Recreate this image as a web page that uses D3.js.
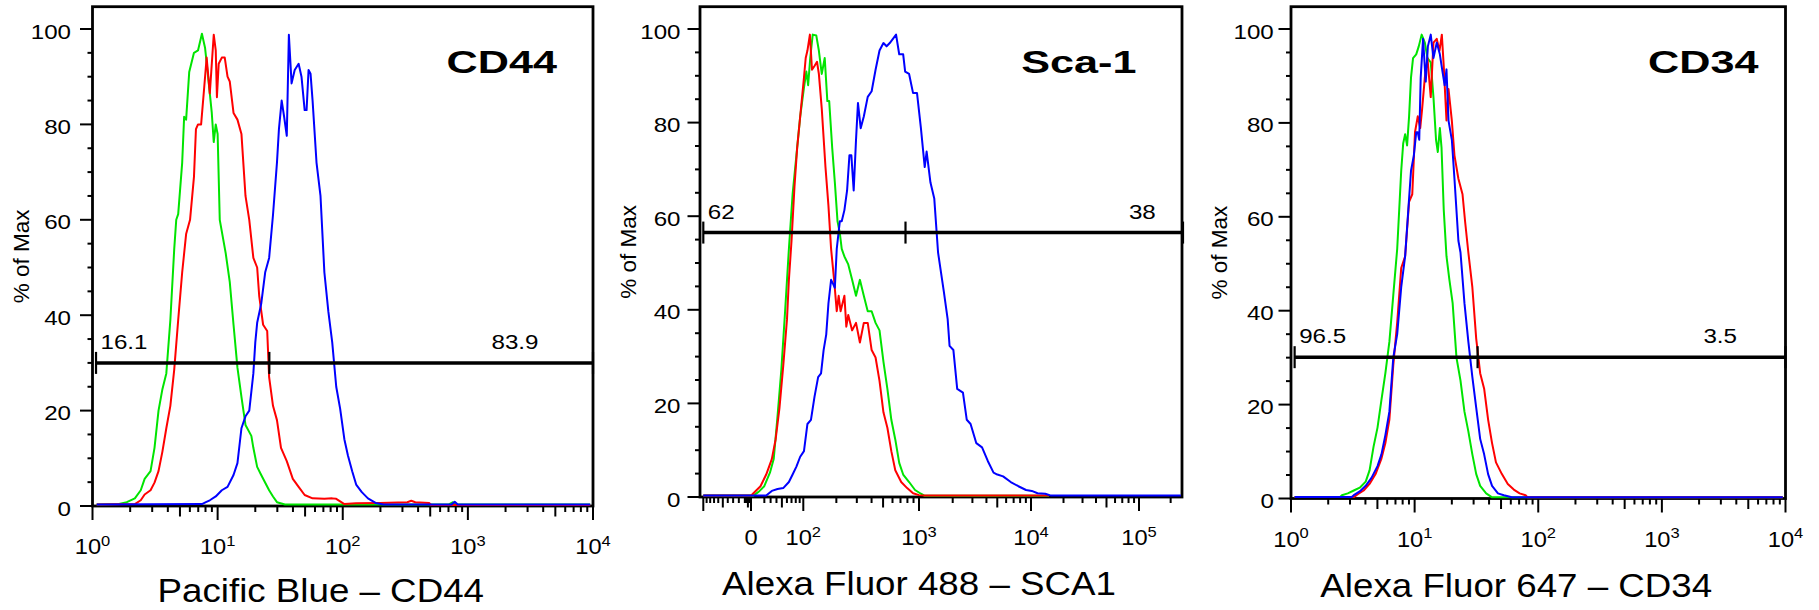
<!DOCTYPE html>
<html>
<head>
<meta charset="utf-8">
<script src="https://cdn.jsdelivr.net/npm/d3@7"></script>
<style>
  body { margin: 0; background: #fff; }
  svg { display: block; }
  text { font-family: "Liberation Sans", Arial, sans-serif; fill: #000; }
</style>
</head>
<body>
<svg id="chart" width="1819" height="610"></svg>
<script>
// ---- data: [intensity, % of max] ----
const cd44Green = [[1.08,0.3],[1.63,0.4],[1.88,0.8],[2.18,1.6],[2.43,3.3],[2.61,5.7],[2.91,7.3],[3.13,12.2],[3.37,20],[3.62,24.5],[3.89,27.8],[4.19,39],[4.5,53.9],[4.67,60],[4.84,61.2],[5.21,72],[5.4,81.6],[5.6,81],[5.93,91],[6.47,95],[6.97,95.5],[7.49,99],[7.94,96],[8.35,90.6],[8.98,82.4],[9.31,76.3],[9.66,80],[10,78],[10.4,60],[11.6,53],[12.5,47],[13.4,38],[14.4,29],[15.5,22.9],[16.7,17],[18.6,14.7],[19.3,12.2],[20.7,8.2],[22.3,6.5],[25.8,3.3],[27.7,2],[29.8,0.8],[34.5,0.3],[700,0.3],[760,0.8],[800,0.3],[9500,0.3]];
const cd44Red = [[1.08,0.3],[2.18,0.4],[2.43,1.2],[2.61,2.4],[2.91,3.3],[3.13,4.9],[3.37,7.3],[3.62,11.4],[3.89,16.3],[4.19,21],[4.5,28.6],[4.84,39],[5.21,49],[5.6,57],[6.02,60],[6.47,69],[6.71,79],[6.97,80],[7.38,80],[7.77,87],[8.17,94],[8.66,86.5],[9.31,98.8],[9.66,95.5],[9.87,85.7],[10.2,92.7],[10.8,94],[11.4,94],[12,90],[12.5,89],[13.4,82.4],[14.4,81],[15.5,78],[16.7,65],[17.9,60],[19.3,52],[20.7,50],[21.5,44],[23.1,38],[24.9,36.7],[25.8,27],[27.7,21],[29.8,18],[32.1,12.2],[35.7,9.4],[39.9,5.7],[44.4,4],[49.6,2.3],[57.4,1.6],[71.3,1.5],[82.4,1.6],[88.7,1.5],[103,0.4],[128,0.6],[197,0.65],[328,0.8],[353,1.1],[380,0.8],[490,0.65],[508,0.2],[9500,0.2]];
const cd44Blue = [[1.08,0.3],[7.49,0.4],[8.06,0.8],[8.66,1.2],[9.66,2],[10.8,3.3],[12,4],[13.4,6.5],[14.4,9],[15.5,16.3],[16.7,18.8],[17.9,20],[19.3,27.8],[20,34.3],[20.7,38.4],[22.3,42.4],[24,49],[25.8,52],[27.7,61],[29.8,72],[30.9,79],[32.5,85],[34,81.6],[35.7,77.6],[37.1,98.8],[39,88.6],[41.3,91.4],[44.4,92.7],[46.8,90],[49.6,83],[51.4,83],[53.3,91.4],[55.3,90.6],[57.4,85],[61.7,72],[66.4,65],[71.3,49],[76.7,40.8],[82.4,34.3],[88.7,25],[95.3,20.4],[103,14],[110,10.6],[119,7.3],[128,4.5],[142,2.9],[159,1.6],[183,0.65],[212,0.3],[740,0.3],[785,0.9],[830,0.3],[9500,0.3]];

const sca1Green = [[-100,0.3],[0,0.3],[2.8,0.25],[11.2,1.1],[19.9,2.3],[28.9,5.2],[35.2,8.1],[41.9,17.3],[49,27.3],[56.3,39.7],[64.2,53],[72.5,64.7],[81.6,73],[91.4,81.3],[101.5,87.5],[107,90.9],[111.3,88],[116.5,93.8],[122.9,98.8],[132.6,98.6],[139.9,95.4],[148.6,90.4],[158,93.8],[166.7,84.6],[173.1,84.6],[184,74.6],[194.1,67.2],[204.8,58.9],[214.4,56.4],[222.7,53],[234.9,51.4],[253.5,49.7],[273.6,46.4],[295.3,43],[318.6,46.4],[343.9,43],[371.2,39.7],[400.6,39.7],[432.3,37.2],[466.7,35.6],[503.5,28.9],[543.5,23.1],[586.5,16.5],[633,12.3],[683,7.3],[737.2,4.8],[826.4,3.2],[926.7,1.5],[1040,0.7],[1125,0.25],[14720,0.25]];
const sca1Red = [[-100,0.3],[0,0.3],[2.8,0.7],[8.4,1.5],[14.1,2.3],[22.9,4.8],[32,8.1],[38.5,12.3],[45.4,19],[52.6,28],[60.2,38],[64.2,46.4],[70,54.7],[76.9,66.3],[83.5,74.6],[91.4,81.3],[101.5,89.6],[105.5,93.8],[109.6,95.4],[115.6,98.8],[121,91.3],[127.6,92.1],[134.6,93],[139.9,90.4],[148.6,83],[160.4,70.5],[170.5,62.2],[179.9,53],[191.2,46.4],[201.6,39.7],[209.5,43],[217.7,39.7],[234.9,43],[243.9,36.4],[253.5,38.9],[273.6,35.6],[295.3,37.2],[318.6,33],[343.9,37.2],[371.2,37.2],[400.6,31.4],[432.3,29.8],[466.7,24.8],[503.5,18.1],[543.5,14.8],[586.5,9.8],[633,5.7],[709.6,3.2],[795.6,1.9],[892,0.8],[1000,0.4],[1125,0.3],[14720,0.3]];
const sca1Blue = [[-100,0.3],[0,0.3],[22.9,0.3],[32,1.3],[41.9,1.7],[52.6,1.9],[64.2,3.2],[72.5,4.8],[81.6,6.5],[91.4,8.6],[101.5,9.8],[109.6,15.6],[118.3,16.5],[127.6,21.4],[137.8,25.6],[146.4,26.4],[154.4,31.4],[162.9,34.7],[170.5,41.4],[179.9,46.4],[186.9,45.6],[194.1,44.7],[201.6,53],[214.4,58.9],[222.7,58.9],[234.9,61.3],[247.7,65.5],[259.4,73],[269.5,73],[282.1,65.5],[295.3,76.3],[306.8,84.2],[323.6,78.8],[343.9,81.3],[371.2,85.5],[400.6,86.7],[432.3,91.3],[466.7,95.4],[503.5,97],[535.3,96.3],[568.9,97],[604.7,97.9],[642.7,98.8],[683,94.6],[737.2,94.6],[765.8,90.9],[826.4,90.4],[892,86.3],[962.5,86.3],[1040,78.8],[1125,70.5],[1170,73.8],[1266,67.2],[1369,63.8],[1481,52.2],[1667,43.9],[1803,38],[1875,32.3],[2029,31.4],[2194,23.1],[2469,22.3],[2671,16.5],[2889,15.6],[3251,11.5],[3657,10.6],[4115,7.7],[4630,5.2],[5008,4.8],[5636,4.4],[6594,3.2],[7717,2.3],[9028,1.5],[10166,1.3],[11499,0.8],[13556,0.7],[15340,0.3],[250000,0.3]];

const cd34Green = [[1.07,0.3],[2.49,0.3],[2.58,0.7],[2.88,1.1],[3.22,1.7],[3.6,2.3],[4.02,3.6],[4.32,6],[4.65,11],[5.01,15.1],[5.39,21],[5.8,26.7],[6.25,33.4],[6.72,43.3],[7.23,53.2],[7.79,69.8],[8.08,75.6],[8.38,77.6],[8.69,75.2],[9.02,81.4],[9.35,89.7],[9.71,93.8],[10.3,94.6],[10.8,96.3],[11.4,98.8],[12.1,97.1],[12.7,93.8],[13.5,92.9],[14.2,85.5],[14.9,76.4],[15.4,73.8],[16,78.9],[16.5,74.8],[17.2,61.5],[18.1,51.6],[19.1,46.6],[20.3,41.6],[21.8,30],[23.5,25.1],[25.3,18.5],[27.2,14.3],[29.3,9.4],[31.5,5.2],[33.9,2.7],[37.9,1.1],[42.3,0.25],[9500,0.25]];
const cd34Blue = [[1.07,0.3],[3.1,0.3],[3.22,0.7],[3.6,1.5],[4.02,2.7],[4.48,4.4],[5.01,6.9],[5.39,9.4],[5.8,13.5],[6.25,18.5],[6.72,30],[7.23,35],[7.79,45],[8.38,51.6],[8.89,61.5],[9.35,69.8],[9.85,73],[10.3,78],[10.6,78],[10.9,76.4],[11.2,89.7],[11.7,97.9],[12.3,88.8],[12.8,96.3],[13.5,98.8],[14.2,93.8],[15.1,97.1],[16,94.6],[16.9,90.5],[17.5,88],[18.1,91.4],[18.8,80.5],[20,76.4],[21,68.1],[22.6,54.9],[23.5,52.4],[25.3,41.6],[27.2,33.4],[29.3,25.9],[31.5,19.3],[33.9,12.7],[36.5,9.4],[39.3,5.2],[42.3,2.7],[47.2,1.1],[52.7,0.7],[61.1,0.25],[9500,0.25]];
const cd34Red = [[1.07,0.3],[3.22,0.3],[3.47,0.9],[3.87,1.7],[4.32,3.1],[4.83,5.2],[5.39,8.5],[5.8,11.8],[6.25,16.8],[6.72,28.4],[7.23,37.5],[7.79,49.1],[8.38,51.6],[9.02,63.2],[9.57,64.8],[10.07,78],[10.6,81.4],[11.1,78.9],[11.5,83],[12.1,89.7],[12.7,93.8],[13.5,85.5],[14.2,97.1],[15.1,97.9],[15.9,95.4],[16.6,98.8],[17.2,92.1],[18.1,80.5],[18.8,87.2],[20,80.5],[21,73.1],[22.6,68.1],[24.4,64.8],[25.6,59],[27.2,52.4],[29.3,45],[31.5,34],[33.9,26.7],[36.5,23.4],[39.3,16.8],[42.3,11.8],[45.5,7.7],[50.8,5.2],[56.7,3.1],[63.4,1.9],[70.7,1.1],[79,0.7],[82,0.25],[9500,0.25]];

// gates: [start, split, end] on x, level on y, and the two percentages
const cd44Gate = {x: [1.067, 25.9, 1e4], y: 30, labels: ["16.1", "83.9"]};
const sca1Gate = {x: [-100, 771, 262144], y: 56.5, labels: ["62", "38"]};
const cd34Gate = {x: [1.07, 32.3, 1e4], y: 30.1, labels: ["96.5", "3.5"]};

const yTicks = [0, 20, 40, 60, 80, 100];
const logMajor = [1, 10, 100, 1e3, 1e4];
const biexMajor = [-100, 0, 100, 1e3, 1e4, 1e5];
const biexLabels = [[0, "0", null], [100, "10", "2"], [1e3, "10", "3"], [1e4, "10", "4"], [1e5, "10", "5"]];

const colors = {green: "#00e400", red: "#ff0000", blue: "#0000ff"};

// ---- scales ----
const T = v => Math.asinh(v / 60);
function biexScale(range) {
  const lin = d3.scaleLinear().domain([-100, 0, 100, 1e3, 1e4, 1e5, 262144].map(T)).range(range);
  return v => lin(T(v));
}

function logMinors(maxExp) {
  const out = [];
  for (let e = 0; e < maxExp; e++) for (let k = 2; k <= 9; k++) out.push(k * Math.pow(10, e));
  return out;
}
function biexMinors() {
  const out = [];
  for (let k = 1; k <= 9; k++) { out.push(-k); out.push(-k * 10); }
  for (let k = 2; k <= 9; k++) { out.push(k * 10); out.push(k * 100); out.push(k * 1000); out.push(k * 1e4); }
  out.push(2e5);
  return out;
}

const panels = [
  {name: "CD44", title: "Pacific Blue \u2013 CD44", x0: 92.5, x1: 593, yZero: 506, type: "log",
   series: [cd44Green, cd44Red, cd44Blue], gate: cd44Gate,
   yLabGap: 21.5, nameRight: 36, gateRight: 54.5},
  {name: "Sca-1", title: "Alexa Fluor 488 \u2013 SCA1", x0: 700, x1: 1182, yZero: 497, type: "biex",
   range: [703.3, 751, 803.3, 919, 1031, 1139, 1183],
   series: [sca1Green, sca1Red, sca1Blue], gate: sca1Gate,
   yLabGap: 19.5, nameRight: 45.5, gateRight: 26.2},
  {name: "CD34", title: "Alexa Fluor 647 \u2013 CD34", x0: 1291, x1: 1785.5, yZero: 498.5, type: "log",
   series: [cd34Green, cd34Red, cd34Blue], gate: cd34Gate,
   yLabGap: 17.2, nameRight: 27, gateRight: 48.5}
];

const svg = d3.select("#chart");
const frameTop = 6.7;

function txt(g, x, y, s, size, sx, anchor, weight) {
  return g.append("text")
    .attr("transform", "translate(" + x + "," + y + ") scale(" + sx + ",1)")
    .attr("font-size", size)
    .attr("text-anchor", anchor)
    .attr("font-weight", weight || "normal")
    .text(s);
}

panels.forEach(p => {
  const g = svg.append("g");
  const y = d3.scaleLinear().domain([0, 100]).range([p.yZero, 29]);
  const x = p.type === "log"
    ? d3.scaleLog().domain([1, 1e4]).range([p.x0, p.x1])
    : biexScale(p.range);

  // y ticks and labels
  d3.range(0, 101, 5).forEach(v => {
    const len = v % 20 === 0 ? 12.5 : 5;
    g.append("line").attr("x1", p.x0 - len).attr("x2", p.x0)
      .attr("y1", y(v)).attr("y2", y(v))
      .attr("stroke", "#000").attr("stroke-width", 2);
  });
  yTicks.forEach(v => txt(g, p.x0 - p.yLabGap, y(v) + 9.5, String(v), 21, 1.15, "end"));

  txt(g, 0, 0, "% of Max", 22.5, 1, "middle")
    .attr("transform", "translate(" + (p.x0 - 64) + "," + ((frameTop + p.yZero) / 2) + ") rotate(-90)");

  // x ticks
  const majors = p.type === "log" ? logMajor : biexMajor;
  const minors = p.type === "log" ? logMinors(4) : biexMinors();
  const tick = (v, len) => g.append("line").attr("x1", x(v)).attr("x2", x(v))
      .attr("y1", p.yZero).attr("y2", p.yZero + len)
      .attr("stroke", "#000").attr("stroke-width", 2);
  majors.forEach(v => tick(v, 14));
  minors.forEach(v => {
    const lead = Math.abs(v) / Math.pow(10, Math.floor(Math.log10(Math.abs(v))));
    tick(v, Math.round(lead) === 5 ? 10.5 : 6);
  });

  const xLabels = p.type === "log"
    ? logMajor.map((v, i) => [v, "10", String(i)])
    : biexLabels;
  xLabels.forEach(([v, base, exp]) => {
    const t = txt(g, x(v), p.yZero + 48, "", 21.5, 1.1, "middle");
    t.append("tspan").text(base);
    if (exp) t.append("tspan").attr("dy", -8.5).attr("font-size", 15).text(exp);
  });

  // axis title
  txt(g, (p.x0 + p.x1) / 2 - 22, Math.min(p.yZero + 98, 602), p.title, 34, 1.08, "middle");

  // frame
  g.append("rect").attr("x", p.x0).attr("y", frameTop)
    .attr("width", p.x1 - p.x0).attr("height", p.yZero - frameTop)
    .attr("fill", "none").attr("stroke", "#000").attr("stroke-width", 2.8);

  // histograms
  const line = d3.line().x(d => x(d[0])).y(d => y(d[1]));
  [colors.green, colors.red, colors.blue].forEach((c, i) => {
    g.append("path").datum(p.series[i]).attr("d", line)
      .attr("fill", "none").attr("stroke", c).attr("stroke-width", 2)
      .attr("stroke-linejoin", "round");
  });

  // gate
  const gy = y(p.gate.y);
  g.append("line").attr("x1", x(p.gate.x[0])).attr("x2", x(p.gate.x[2]))
    .attr("y1", gy).attr("y2", gy).attr("stroke", "#000").attr("stroke-width", 3.5);
  p.gate.x.forEach(v => g.append("line").attr("x1", x(v)).attr("x2", x(v))
    .attr("y1", gy - 11).attr("y2", gy + 11).attr("stroke", "#000").attr("stroke-width", 2.2));
  txt(g, x(p.gate.x[0]) + 4.5, gy - 14, p.gate.labels[0], 21, 1.15, "start");
  txt(g, p.x1 - p.gateRight, gy - 14, p.gate.labels[1], 21, 1.15, "end");

  // panel name
  txt(g, p.x1 - p.nameRight, 73, p.name, 32, 1.35, "end", "bold");
});
</script>
</body>
</html>
